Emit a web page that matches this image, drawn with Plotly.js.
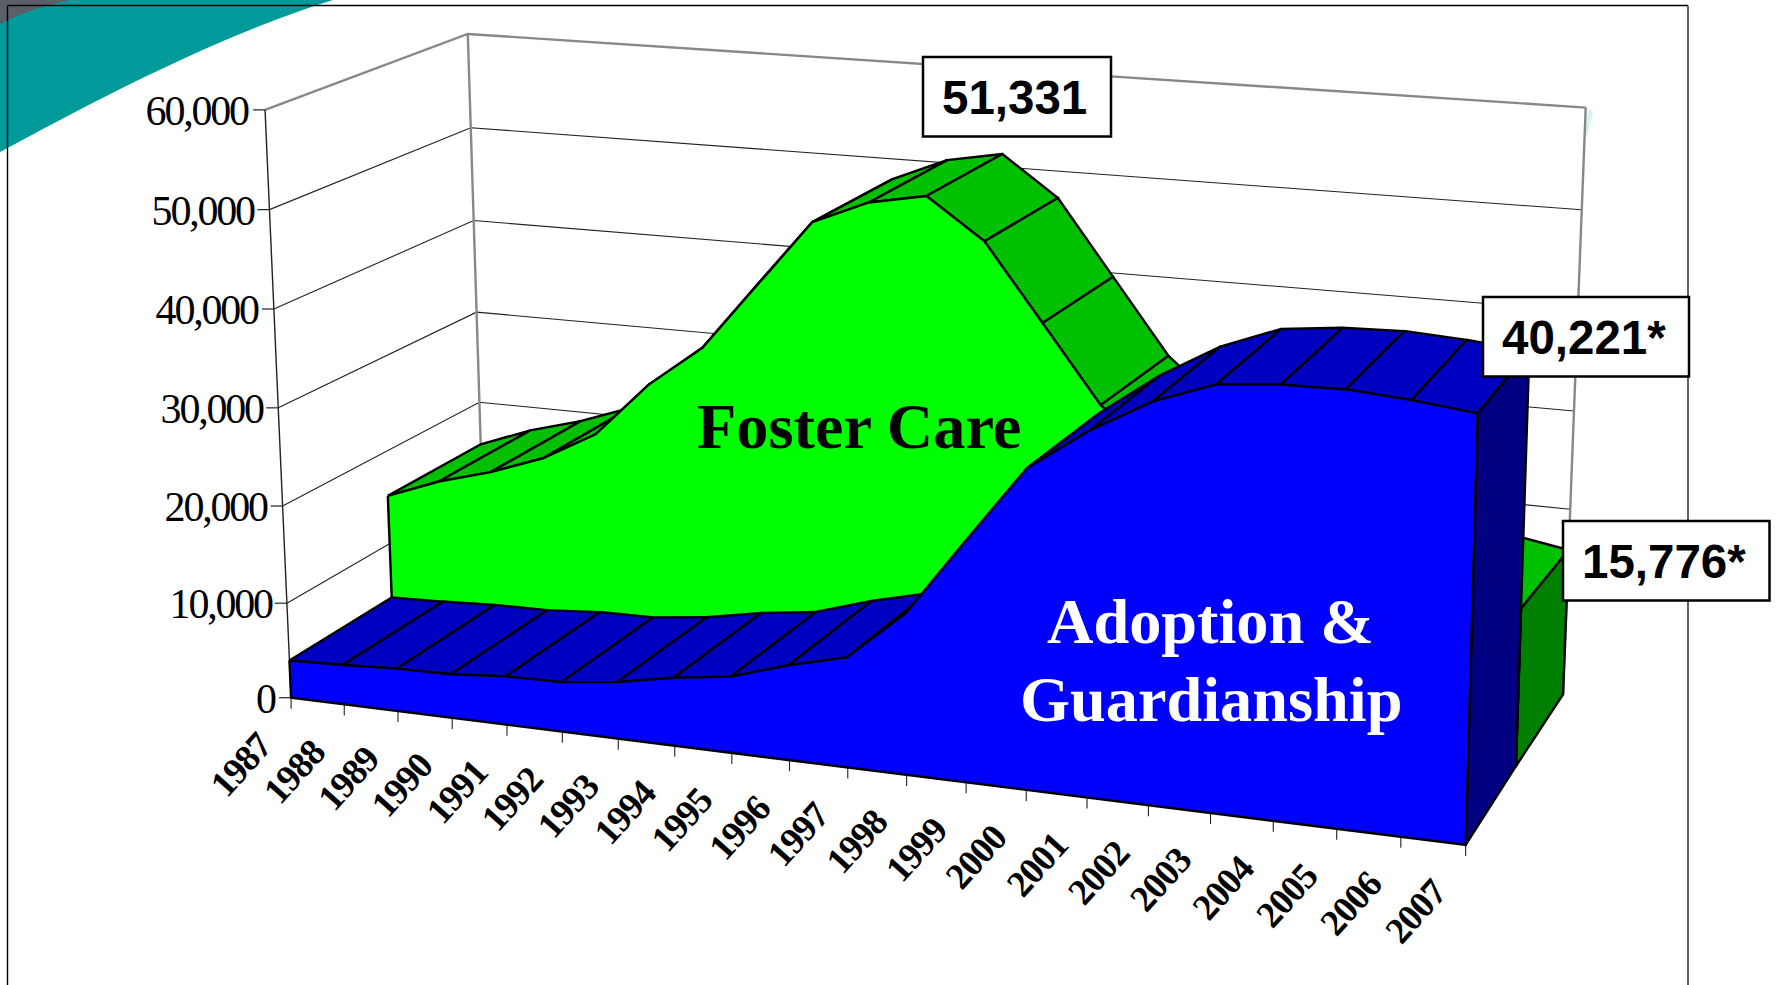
<!DOCTYPE html>
<html>
<head>
<meta charset="utf-8">
<script src="https://cdn.plot.ly/plotly-3.0.1.min.js"></script>
<style>html,body{margin:0;padding:0;background:#fff;overflow:hidden}#chart{width:1776px;height:985px}</style>
</head>
<body>
<div id="chart"></div>
<script>
// ---- data ----
const years = [1987,1988,1989,1990,1991,1992,1993,1994,1995,1996,1997,1998,1999,2000,2001,2002,2003,2004,2005,2006,2007];
const fosterCare = [15250,17400,19000,21050,24150,29850,34200,41100,47900,50290,51331,47250,39600,31930,27100,21500,19500,18500,17500,16800,15776];
const adoptionGuardianship = [4010,4220,4520,4620,5090,5190,5880,7020,7810,9630,11080,16070,23710,31230,35350,38630,40760,41270,41350,40900,40221];
const valueTicks = [0,10000,20000,30000,40000,50000,60000];
const calloutFoster = "51,331";
const calloutAdoption = "40,221*";
const calloutFosterEnd = "15,776*";

// ---- oblique perspective view of the 3-D chart box ----
const K = 1776/1568, VMAX = 60000;
const FLB=[257,616], FRB=[1294,746], BLB=[428,505], BRB=[1380,613];
const FLT=[234,97],  FRT=[1310,173], BLT=[413,30],  BRT=[1400,95];
const mix=(a,b,t)=>[a[0]+(b[0]-a[0])*t,a[1]+(b[1]-a[1])*t];
const warp=(t,depth)=>{const k=1.11-0.02*depth;return t/(t+(1-t)*k);};
function project(i,depth,value){
  const s=warp(i/(years.length-1),depth), h=Math.pow(value/VMAX,1.02+0.03*depth);
  const lo=mix(mix(FLB,FRB,s),mix(BLB,BRB,s),depth);
  const hi=mix(mix(FLT,FRT,s),mix(BLT,BRT,s),depth);
  const p=mix(lo,hi,h);
  const bump=4*depth*(1-depth);
  return [(p[0]+4.5*bump*(1-0.7*s))*K,(p[1]-3*bump*(1-h)-12*bump*s*s*s*h)*K];
}
function line(pts,color,width){
  return {type:'scatter',mode:'lines',x:pts.map(p=>p[0]),y:pts.map(p=>p[1]),line:{color:color,width:width},hoverinfo:'skip',showlegend:false};
}
function poly(g,fill){
  const x=g.map(p=>p[0]).concat([g[0][0]]), y=g.map(p=>p[1]).concat([g[0][1]]);
  return {type:'scatter',mode:'lines',x:x,y:y,fill:'toself',fillcolor:fill,line:{color:'#000',width:2.4},hoverinfo:'skip',showlegend:false};
}
function solid(values,d0,d1,cols){
  const n=years.length, idx=years.map((_,i)=>i), out=[];
  idx.slice(0,n-1).forEach(i=>out.push(poly([project(i,d0,values[i]),project(i+1,d0,values[i+1]),project(i+1,d1,values[i+1]),project(i,d1,values[i])],cols.top)));
  out.push(poly([project(n-1,d0,0),project(n-1,d1,0),project(n-1,d1,values[n-1]),project(n-1,d0,values[n-1])],cols.side));
  const front=idx.map(i=>project(i,d0,values[i])).concat([project(n-1,d0,0),project(0,d0,0)]);
  out.push(poly(front,cols.front));
  return out;
}

const last=years.length-1, traces=[];
// walls and gridlines
valueTicks.forEach(v=>{
  if(v===VMAX||v===0) return;
  traces.push(line([project(0,0,v),project(0,1,v),project(last,1,v)],'#222',1.1));
});
traces.push(line([project(0,0,VMAX),project(0,1,VMAX),project(last,1,VMAX)],'#888',2.4));
traces.push(line([project(0,1,VMAX),project(0,1,0)],'#888',2.4));
traces.push(line([project(last,1,VMAX),project(last,1,0)],'#888',2.4));
traces.push(line([project(0,0,VMAX),project(0,0,0)],'#222',1.4));
// value axis ticks
const annos=[];
valueTicks.forEach(v=>{
  const p=project(0,0,v), t=v.toLocaleString('en-US');
  traces.push(line([p,[p[0]-12,p[1]]],'#222',1.2));
  annos.push({x:p[0]-16+1.1*t.length+(v>0&&v<VMAX?3:1.5),y:p[1]+1.2,xanchor:'right',yanchor:'middle',showarrow:false,text:t,
    font:{family:'Liberation Serif',size:42,color:'#000'}});
});
// category ticks and labels
years.forEach((yr,i)=>{
  const p=project(i,0,0);
  traces.push(line([p,[p[0],p[1]+11]],'#222',1.1));
  annos.push({x:p[0]-50,y:p[1]+67,xanchor:'center',yanchor:'middle',showarrow:false,text:String(yr),textangle:-48,
    font:{family:'Liberation Serif',size:37,color:'#000',weight:700}});
});
// solids, back to front
solid(fosterCare,0.5,1,{front:'#00FF00',top:'#00C000',side:'#008000'}).forEach(t=>traces.push(t));
solid(adoptionGuardianship,0,0.5,{front:'#0000FF',top:'#0000C0',side:'#000080'}).forEach(t=>traces.push(t));

// page furniture
const shapes=[
  {type:'path',path:'M0,0 L333,0 C220,35 100,98 0,152 Z',fillcolor:'#009A9A',line:{width:0},layer:'below'},
  {type:'path',path:'M0,0 L70,0 Q30,8 0,24 Z',fillcolor:'#5a5f68',line:{width:0},layer:'below'},
  {type:'path',path:'M1589,108 L1593,112 L1587,136 L1584,132 Z',fillcolor:'rgba(190,235,235,0.6)',line:{width:0},layer:'below'},
  {type:'line',x0:7.5,x1:7.5,y0:5.5,y1:985,line:{color:'#000',width:1.4},layer:'below'},
  {type:'line',x0:7.5,x1:1688,y0:5.5,y1:5.5,line:{color:'#000',width:1.4},layer:'below'},
  {type:'line',x0:1688,x1:1688,y0:5.5,y1:985,line:{color:'#222',width:1.4},layer:'below'}
];
function box(text,x0,y0,x1,y1){
  shapes.push({type:'rect',x0:x0,x1:x1,y0:y0,y1:y1,fillcolor:'#fff',line:{color:'#000',width:2.5},layer:'above'});
  annos.push({x:(x0+x1)/2-2.5,y:(y0+y1)/2+0.5,xanchor:'center',yanchor:'middle',showarrow:false,text:text,
    font:{family:'Liberation Sans',size:47.5,color:'#000',weight:700}});
}
box(calloutFoster,923,57,1111,136.5);
box(calloutAdoption,1483,297,1689,376.5);
box(calloutFosterEnd,1563,521,1769.5,600.5);
const big=(t,x,y,c)=>({x:x*K,y:y*K,xanchor:'center',yanchor:'middle',showarrow:false,text:t,font:{family:'Liberation Serif',size:64.3,color:c,weight:700}});
annos.push(big('Foster Care',758,376.5,'#000'));
annos.push(big('Adoption &amp;',1069,549,'#fff'));
annos.push(big('Guardianship',1069,618,'#fff'));

Plotly.newPlot('chart',traces,{
  width:1776,height:985,margin:{l:0,r:0,t:0,b:0},paper_bgcolor:'#fff',plot_bgcolor:'rgba(0,0,0,0)',showlegend:false,
  xaxis:{range:[0,1776],visible:false,fixedrange:true},
  yaxis:{range:[985,0],visible:false,fixedrange:true},
  shapes:shapes,annotations:annos
},{displayModeBar:false,staticPlot:true}).then(()=>{
  document.querySelectorAll('.annotation-text').forEach(el=>{
    const t=el.textContent;
    if(/^\d{1,2}(,\d{3})?$/.test(t)&&el.style.fontFamily.indexOf('Serif')>=0) el.style.letterSpacing='-2.2px';
    if(/^(19|20)\d\d$/.test(t)) el.style.letterSpacing='-1px';
  });
});
</script>
</body>
</html>
